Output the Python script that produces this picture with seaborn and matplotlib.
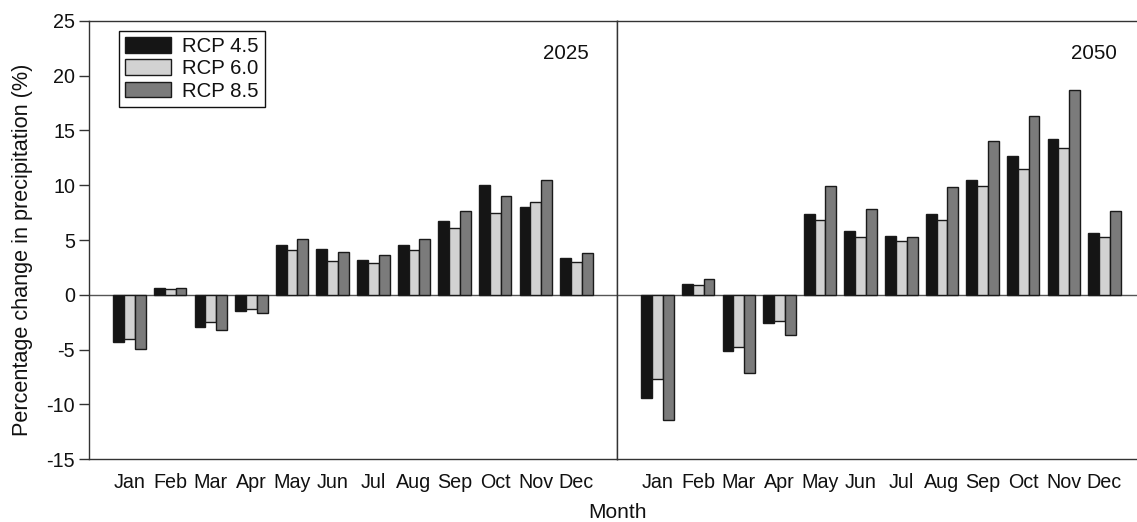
import matplotlib
matplotlib.use("Agg")
import matplotlib.pyplot as plt
import numpy as np
import pandas as pd
import seaborn as sns

# Monthly projected change in precipitation (%) by emission scenario
months = ["Jan", "Feb", "Mar", "Apr", "May", "Jun",
          "Jul", "Aug", "Sep", "Oct", "Nov", "Dec"]
scenarios = ["RCP 4.5", "RCP 6.0", "RCP 8.5"]

rcp45_2025 = [-4.3, 0.6, -2.9, -1.5, 4.5, 4.2, 3.2, 4.5, 6.7, 10.0, 8.0, 3.4]
rcp60_2025 = [-4.0, 0.5, -2.5, -1.3, 4.1, 3.1, 2.9, 4.1, 6.1, 7.5, 8.5, 3.0]
rcp85_2025 = [-4.9, 0.6, -3.2, -1.7, 5.1, 3.9, 3.6, 5.1, 7.6, 9.0, 10.5, 3.8]

rcp45_2050 = [-9.4, 1.0, -5.1, -2.6, 7.4, 5.8, 5.4, 7.4, 10.5, 12.7, 14.2, 5.6]
rcp60_2050 = [-7.7, 0.9, -4.8, -2.4, 6.8, 5.3, 4.9, 6.8, 9.9, 11.5, 13.4, 5.3]
rcp85_2050 = [-11.4, 1.4, -7.1, -3.7, 9.9, 7.8, 5.3, 9.8, 14.0, 16.3, 18.7, 7.6]

periods = ["2025", "2050"]
palette = ["#151515", "#d2d2d2", "#7b7b7b"]


def long_table(series):
    rows = []
    for name, vals in zip(scenarios, series):
        for m, v in zip(months, vals):
            rows.append({"Month": m, "Scenario": name, "Change": v})
    return pd.DataFrame(rows)


tables = {
    "2025": long_table([rcp45_2025, rcp60_2025, rcp85_2025]),
    "2050": long_table([rcp45_2050, rcp60_2050, rcp85_2050]),
}

sns.set_theme(style="white")
plt.rcParams["font.family"] = ["Liberation Sans", "DejaVu Sans"]
plt.rcParams["axes.unicode_minus"] = False

W, H = 1137, 522
fig = plt.figure(figsize=(W / 100, H / 100), dpi=100)
top, bottom = 20.7, 459.3
panel_w = 528
ax_left = fig.add_axes([89 / W, 1 - bottom / H, panel_w / W, (bottom - top) / H])
ax_right = fig.add_axes([617 / W, 1 - bottom / H, panel_w / W, (bottom - top) / H])

text_color = "#111111"
spine_color = "#333333"
for ax, period in zip([ax_left, ax_right], periods):
    sns.barplot(data=tables[period], x="Month", y="Change", hue="Scenario",
                order=months, hue_order=scenarios, palette=palette,
                width=0.8, edgecolor="#1a1a1a", linewidth=1.0,
                saturation=1, legend=(ax is ax_left), ax=ax)
    ax.axhline(0, color="#555555", lw=1.0, zorder=0.5)
    ax.set_xlim(-1, 12)
    ax.set_ylim(-15, 25)
    ax.set_xlabel("")
    ax.set_ylabel("")
    for s in ax.spines.values():
        s.set_color(spine_color)
        s.set_linewidth(1.0)
    ax.tick_params(axis="x", length=0, pad=10, labelsize=14.2, colors=text_color)
    ax.text(0.947, 0.926, period, transform=ax.transAxes,
            ha="right", va="center", fontsize=14.8, color=text_color)

ax_left.set_yticks(np.arange(-15, 26, 5))
ax_left.tick_params(axis="y", direction="out", length=7, width=1,
                    color=spine_color, labelsize=14.2, pad=3, left=True,
                    labelcolor=text_color)
ax_left.set_ylabel("Percentage change in precipitation (%)", fontsize=15.6,
                   color=text_color)
ax_left.yaxis.set_label_coords(-0.106, 0.477)
ax_right.set_yticks([])
ax_right.spines["right"].set_visible(False)

handles, labels = ax_left.get_legend_handles_labels()
ax_left.legend(handles, labels, loc="upper left",
               bbox_to_anchor=(0.057, 0.9765), borderaxespad=0,
               fancybox=False, frameon=True, edgecolor=text_color,
               framealpha=1, fontsize=14.7, handlelength=2.25, handleheight=0.8,
               handletextpad=0.55, labelspacing=0.16, borderpad=0.3,
               labelcolor=text_color)
ax_left.get_legend().get_frame().set_linewidth(1.0)

fig.text(618 / W, 1 - 512 / H, "Month", ha="center", va="center",
         fontsize=15, color=text_color)

fig.savefig("out.png", dpi=100)
